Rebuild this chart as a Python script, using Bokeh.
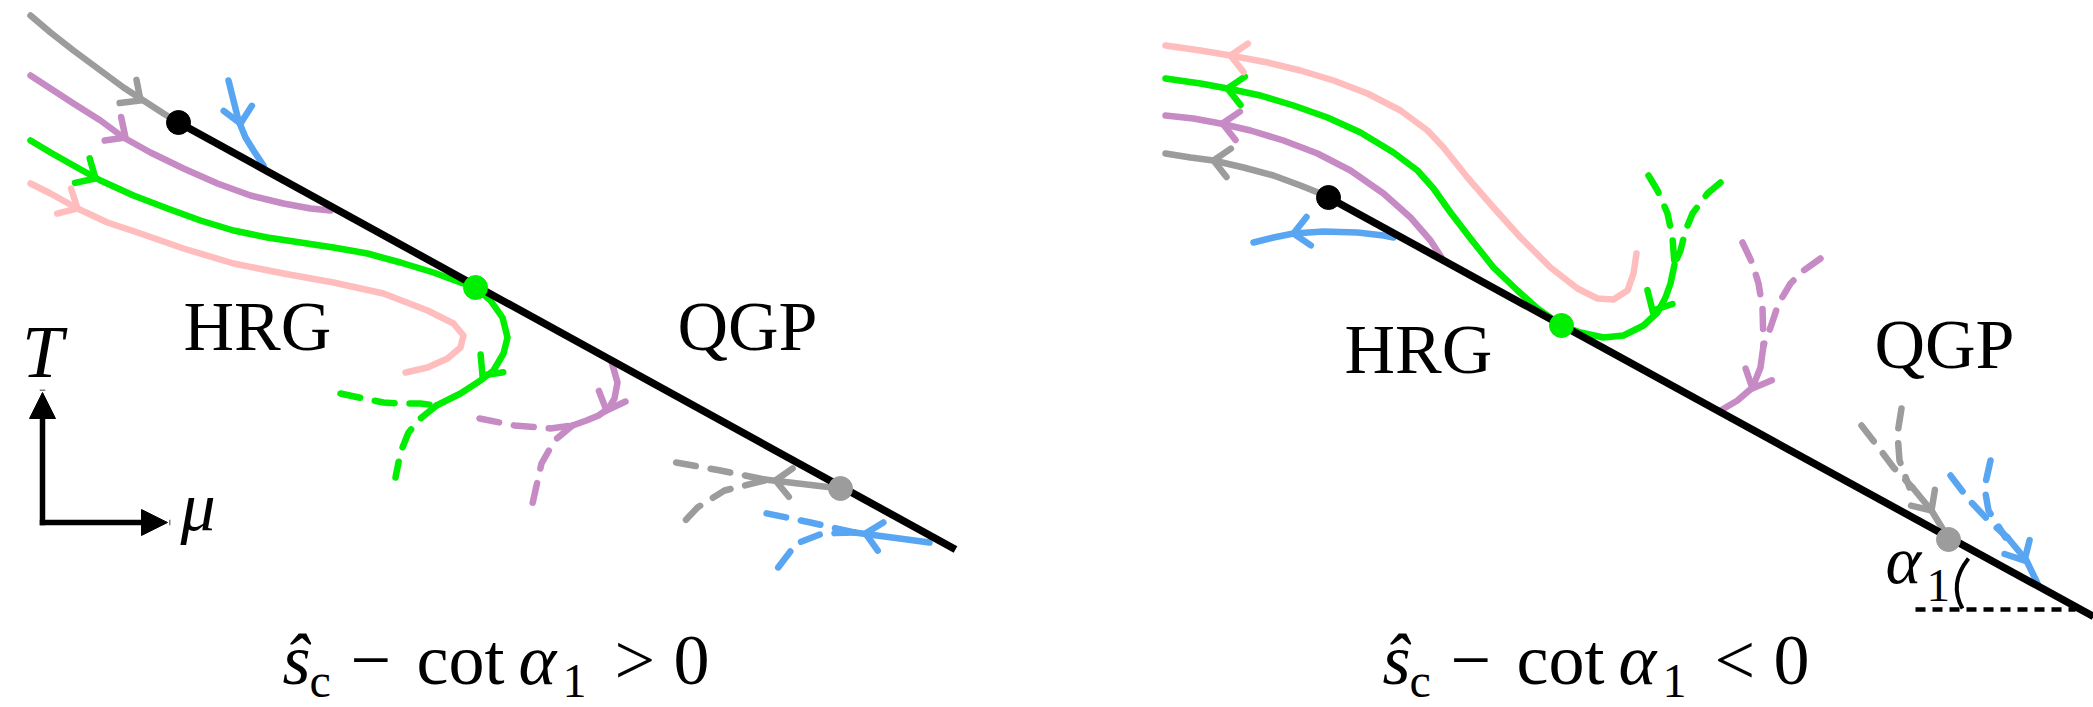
import numpy as np
from bokeh.plotting import figure
from bokeh.models import Range1d, Arrow, NormalHead
from bokeh.core.properties import value
from bokeh.embed import file_html
from bokeh.resources import INLINE

# ---------------- data (reference pixel coordinates, y downward) ----------------
# phase boundary lines
line_L_x = [178, 955]; line_L_y = [122, 549]
line_R_x = [1328, 2093]; line_R_y = [197, 616]

# fixed points
dot_black_x = [178, 1328]; dot_black_y = [122, 197]
dot_green_x = [475, 1561]; dot_green_y = [287, 325]
dot_gray_x = [840, 1948]; dot_gray_y = [488, 539]

# left panel, solid flows
gray_L_x = [30, 50, 73, 100, 123, 143, 163, 178]
gray_L_y = [15, 32, 50, 70, 87, 100, 113, 122]
purple_L_x = [30, 50, 73, 100, 123, 150, 183, 217, 250, 283, 310, 330]
purple_L_y = [75, 88, 103, 120, 137, 152, 168, 183, 195, 203, 208, 210]
green_L_x = [30, 50, 73, 100, 133, 167, 200, 233, 267, 300, 333, 367, 400, 433, 460, 475,
             490, 502, 507, 503, 493, 480, 460, 436]
green_L_y = [140, 152, 165, 180, 195, 208, 220, 230, 237, 242, 247, 253, 262, 272, 282, 287,
             300, 317, 337, 353, 370, 380, 393, 405]
pink_L_x = [30, 50, 77, 107, 140, 183, 233, 283, 333, 383, 427, 453, 463, 460, 447, 427, 405]
pink_L_y = [183, 193, 208, 222, 233, 248, 263, 273, 282, 293, 310, 323, 335, 347, 358, 367, 372]
blue_L_x = [228, 233, 238, 245, 253, 263]
blue_L_y = [80, 100, 120, 137, 150, 165]
purple_L2_x = [611, 617, 614, 608, 598, 586, 572]
purple_L2_y = [361, 382, 398, 408, 415, 420, 425]
gray_L2_x = [840, 764]; gray_L2_y = [488, 479]
blue_L2_x = [929, 854]; blue_L2_y = [542, 532]

# left panel, dashed flows
green_Ld_x = [[340, 363, 383, 400, 420, 436], [436, 420, 408, 400, 395]]
green_Ld_y = [[393, 398, 402, 403, 403, 405], [405, 418, 432, 452, 477]]
purple_Ld_x = [[479, 514, 550, 572], [572, 554, 541, 532]]
purple_Ld_y = [[418, 425, 428, 425], [425, 440, 463, 503]]
gray_Ld_x = [[764, 720, 670], [764, 724, 697, 682]]
gray_Ld_y = [[479, 470, 461], [480, 490, 507, 523]]
blue_Ld_x = [[854, 810, 762], [854, 822, 796, 773]]
blue_Ld_y = [[532, 522, 512], [532, 533, 543, 573]]

# right panel, solid flows
pink_R_x = [1165, 1200, 1230, 1267, 1300, 1333, 1367, 1400, 1427, 1443, 1467, 1493, 1520, 1550,
            1577, 1597, 1613, 1627, 1633, 1636]
pink_R_y = [45, 50, 55, 62, 70, 80, 93, 110, 130, 147, 177, 207, 237, 267,
            288, 298, 299, 290, 273, 253]
green_R_x = [1165, 1200, 1227, 1260, 1293, 1327, 1360, 1393, 1417, 1433, 1450, 1470, 1493, 1517,
             1537, 1561, 1580, 1603, 1623, 1643, 1657, 1665, 1670, 1674]
green_R_y = [78, 83, 88, 95, 105, 117, 132, 152, 170, 188, 212, 238, 267, 290,
             308, 325, 332, 337, 335, 325, 312, 297, 283, 264]
purple_R_x = [1165, 1193, 1220, 1250, 1283, 1317, 1350, 1383, 1410, 1430, 1443]
purple_R_y = [115, 118, 123, 130, 140, 153, 170, 193, 217, 240, 260]
gray_R_x = [1165, 1190, 1213, 1243, 1273, 1300, 1320, 1330]
gray_R_y = [153, 157, 160, 167, 175, 185, 193, 198]
blue_R_x = [1253, 1273, 1293, 1323, 1357, 1383, 1393]
blue_R_y = [242, 237, 233, 231, 232, 235, 237]
purple_R2_x = [1763, 1760, 1752, 1737, 1720]; purple_R2_y = [345, 367, 387, 400, 410]
gray_R2_x = [1912, 1931, 1948]; gray_R2_y = [487, 510, 538]
blue_R2_x = [2007, 2026, 2037]; blue_R2_y = [537, 560, 583]

# right panel, dashed flows
green_Rd_x = [[1648, 1657, 1667, 1672, 1674], [1720, 1707, 1692, 1685, 1680, 1674]]
green_Rd_y = [[175, 190, 213, 237, 264], [182, 193, 213, 230, 250, 264]]
purple_Rd_x = [[1742, 1752, 1758, 1762, 1763], [1820, 1803, 1790, 1778, 1770, 1763]]
purple_Rd_y = [[242, 263, 283, 307, 345], [258, 270, 283, 303, 327, 345]]
gray_Rd_x = [[1861, 1878, 1893, 1912], [1901, 1897, 1899, 1909]]
gray_Rd_y = [[425, 447, 467, 487], [408, 433, 460, 487]]
blue_Rd_x = [[1950, 1969, 1988, 2007], [1990, 1984, 1988, 2005]]
blue_Rd_y = [[475, 500, 520, 537], [460, 487, 510, 537]]

# arrow marks on the flows: (tail point, tip point)
gray_arr = dict(tx=[129, 790, 1226, 1925], ty=[92, 482, 162, 501],
                vx=[140, 775, 1213, 1931], vy=[100, 480, 160, 510])
purple_arr = dict(tx=[115, 610, 1235, 1756], ty=[130, 400, 125, 379],
                  vx=[125, 606, 1222, 1752], vy=[137, 410, 123, 388])
green_arr = dict(tx=[85, 489, 1240, 1657], ty=[172, 366, 90, 301],
                 vx=[95, 482, 1227, 1652], vy=[178, 375, 88, 310])
pink_arr = dict(tx=[68, 1243], ty=[203, 57], vx=[77, 1230], vy=[208, 55])
blue_arr = dict(tx=[238, 875, 1306, 2019], ty=[112, 535, 231, 551],
                vx=[240, 865, 1293, 2024], vy=[123, 533, 233, 560])

# angle marker
angle_base_x = [1915, 2075]; angle_base_y = [609, 609]
angle_arc = dict(x0=1968, y0=558, x1=1962, y1=608, cx=1948, cy=583)

# texts (x = left edge, y = baseline)
region_text = ["HRG", "QGP", "HRG", "QGP"]
region_x = [183, 677, 1344, 1874]
region_y = [353, 353, 376, 371]

# formula pieces (left panel; right panel is shifted by FORMULA_SHIFT)
formula_main = ["−", "cot"]
formula_main_x = [350, 416]
formula_rel_L = ">"; formula_rel_R = "<"
formula_rel_x = 614
formula_zero_x = 673
formula_ital = ["ŝ", "α"]
formula_ital_x = [282, 518]
formula_sub = ["c", "1"]
formula_sub_x = [309, 562]
FORMULA_SHIFT = 1100

GRAY = "#9c9c9c"; PURPLE = "#c68bc4"; GREEN = "#00ee00"; PINK = "#ffbdbd"; BLUE = "#58a6f2"
FONT = value("Liberation Serif")

# ---------------- figure ----------------
p = figure(width=2093, height=707, output_backend="svg", toolbar_location=None,
           x_range=Range1d(0, 2093), y_range=Range1d(707, 0),
           x_axis_location=None, y_axis_location=None, min_border=0)
p.grid.visible = False
p.outline_line_color = None
p.background_fill_color = "white"

LW = 6.5
DASH = "20 15"
BASE_SHIFT = 0.39  # renderer places alphabetic baseline lower by this fraction of the font size

def solid(xs, ys, c):
    p.line(xs, ys, line_color=c, line_width=LW, line_cap="round", line_join="round")

def dashed(xs, ys, c):
    p.multi_line(xs, ys, line_color=c, line_width=LW, line_cap="round",
                 line_join="round", line_dash=DASH)

def chevrons(a, c, L=21, ang=np.deg2rad(43)):
    xs, ys = [], []
    for tx, ty, vx, vy in zip(a["tx"], a["ty"], a["vx"], a["vy"]):
        d = np.array([tx - vx, ty - vy], float); d /= np.hypot(*d)
        arms = []
        for s in (1, -1):
            ca, sa = np.cos(s * ang), np.sin(s * ang)
            arms.append((vx + L * (d[0] * ca - d[1] * sa), vy + L * (d[0] * sa + d[1] * ca)))
        xs.append([arms[0][0], vx, arms[1][0]]); ys.append([arms[0][1], vy, arms[1][1]])
    p.multi_line(xs, ys, line_color=c, line_width=LW, line_cap="round", line_join="miter")

def label(xs, ys, texts, size, italic=False, align="left"):
    yy = [y - BASE_SHIFT * size for y in ys]
    p.text(xs, yy, text=texts, text_font=FONT, text_font_size=f"{size}px",
           text_font_style="italic" if italic else "normal",
           text_baseline="alphabetic", text_align=align, text_color="black")

# dashed flows
dashed(green_Ld_x, green_Ld_y, GREEN); dashed(purple_Ld_x, purple_Ld_y, PURPLE)
dashed(gray_Ld_x, gray_Ld_y, GRAY); dashed(blue_Ld_x, blue_Ld_y, BLUE)
dashed(green_Rd_x, green_Rd_y, GREEN); dashed(purple_Rd_x, purple_Rd_y, PURPLE)
dashed(gray_Rd_x, gray_Rd_y, GRAY); dashed(blue_Rd_x, blue_Rd_y, BLUE)

# solid flows
for xs, ys, c in [(pink_L_x, pink_L_y, PINK), (gray_L_x, gray_L_y, GRAY), (purple_L_x, purple_L_y, PURPLE),
                  (green_L_x, green_L_y, GREEN), (blue_L_x, blue_L_y, BLUE), (purple_L2_x, purple_L2_y, PURPLE),
                  (gray_L2_x, gray_L2_y, GRAY), (blue_L2_x, blue_L2_y, BLUE),
                  (pink_R_x, pink_R_y, PINK), (green_R_x, green_R_y, GREEN), (purple_R_x, purple_R_y, PURPLE),
                  (gray_R_x, gray_R_y, GRAY), (blue_R_x, blue_R_y, BLUE), (purple_R2_x, purple_R2_y, PURPLE),
                  (gray_R2_x, gray_R2_y, GRAY), (blue_R2_x, blue_R2_y, BLUE)]:
    solid(xs, ys, c)

for a, c in [(gray_arr, GRAY), (purple_arr, PURPLE), (green_arr, GREEN), (pink_arr, PINK), (blue_arr, BLUE)]:
    chevrons(a, c)

# phase boundaries
p.line(line_L_x, line_L_y, line_color="black", line_width=7.5)
p.line(line_R_x, line_R_y, line_color="black", line_width=7.5)

# fixed points
p.scatter(dot_black_x, dot_black_y, size=24, color="black")
p.scatter(dot_green_x, dot_green_y, size=24, color=GREEN)
p.scatter(dot_gray_x, dot_gray_y, size=24, color=GRAY)

# angle marker
p.line(angle_base_x, angle_base_y, line_color="black", line_width=4.5, line_dash="10 7")
p.quadratic(line_color="black", line_width=4, **{k: [v] for k, v in angle_arc.items()})

# T-mu axes arrows
for xe, ye in [(42, 392), (167, 522)]:
    p.add_layout(Arrow(end=NormalHead(size=26, fill_color="black", line_color="black", line_width=1),
                       x_start=42, y_start=522, x_end=xe, y_end=ye,
                       line_width=5.5, line_color="black", line_cap="square"))

# texts
label(region_x, region_y, region_text, 70)
label([42], [380], ["T"], 74, italic=True, align="center")
label([180], [533], ["μ"], 70, italic=True)

# formulas
for off, rel in [(0, formula_rel_L), (FORMULA_SHIFT, formula_rel_R)]:
    label([x + off for x in formula_main_x], [688, 688], formula_main, 72)
    label([formula_rel_x + off], [688], [rel], 72)
    label([formula_zero_x + off], [688], ["0"], 72)
    label([x + off for x in formula_ital_x], [688, 688], formula_ital, 72, italic=True)
    label([x + off for x in formula_sub_x], [699, 699], formula_sub, 48)

# alpha_1 label
label([1885], [586], ["α"], 68, italic=True)
label([1926], [603], ["1"], 47)

open("out.html", "w").write(file_html(p, INLINE))
